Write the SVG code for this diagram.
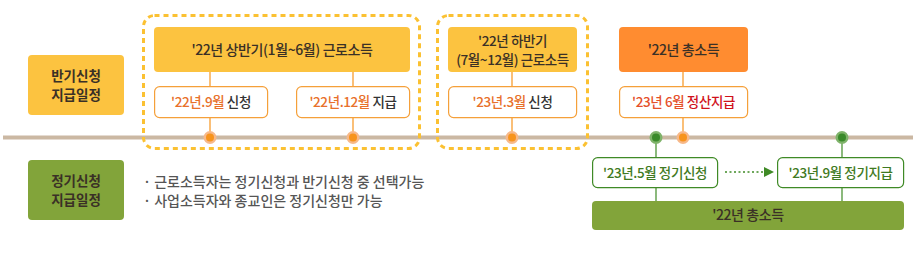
<svg xmlns="http://www.w3.org/2000/svg" width="915" height="259" viewBox="0 0 915 259">
<defs>
<style>
text{font-family:"Noto Sans CJK KR","Noto Sans",sans-serif;font-weight:500;text-anchor:middle;letter-spacing:-0.4px}
.lbl{font-size:14px;fill:#3a3026}
.side{font-size:13.5px;font-weight:700;fill:#3a3026;letter-spacing:0}
.sub{font-size:13.5px;fill:#333}
.or{fill:#e8702a}
.rd1{fill:#e5502a}
.rd2{fill:#d0121b}
.gt{fill:#3f7a22}
.yl{fill:#fcc340}
.og{fill:#ff8c30}
.gr{fill:#82a43a}
.wbo{fill:#fff;stroke:#f5a03a;stroke-width:1.2}
.wbg{fill:#fff;stroke:#3f8a26;stroke-width:1.2}
.dash{fill:none;stroke:#fbc132;stroke-width:3;stroke-dasharray:5 4}
.vo{stroke:#f7941d;stroke-width:1.2}
.vg{stroke:#3f8a26;stroke-width:1.2}
.note{font-size:14px;fill:#555;text-anchor:start;letter-spacing:0}
</style>
<marker id="ah" markerWidth="10" markerHeight="10" refX="9" refY="5" orient="auto" markerUnits="userSpaceOnUse">
<path d="M0,0 L10,5 L0,10 z" fill="#3f8a26"/>
</marker>
</defs>
<rect width="915" height="259" fill="#fff"/>

<g id="connectors">
<line x1="3" y1="137.5" x2="913" y2="137.5" stroke="#cbb8a3" stroke-width="4"/>
<line class="vo" x1="210" y1="72" x2="210" y2="86"/>
<line class="vo" x1="210" y1="118" x2="210" y2="137"/>
<line class="vo" x1="353" y1="72" x2="353" y2="86"/>
<line class="vo" x1="353" y1="118" x2="353" y2="137"/>
<line class="vo" x1="512" y1="72" x2="512" y2="86"/>
<line class="vo" x1="512" y1="118" x2="512" y2="137"/>
<line class="vo" x1="683" y1="72" x2="683" y2="86"/>
<line class="vo" x1="683" y1="118" x2="683" y2="137"/>
<line class="vg" x1="656" y1="137" x2="656" y2="157"/>
<line class="vg" x1="656" y1="188" x2="656" y2="201"/>
<line class="vg" x1="842" y1="137" x2="842" y2="157"/>
<line class="vg" x1="842" y1="188" x2="842" y2="201"/>
<line x1="725" y1="172" x2="773" y2="172" stroke="#3f8a26" stroke-width="1.5" stroke-dasharray="2 2.5" marker-end="url(#ah)"/>
<g id="dots">
<circle cx="210" cy="137.5" r="6.5" fill="#f7b98a"/><circle cx="210" cy="137.5" r="4" fill="#f7941d"/>
<circle cx="353" cy="137.5" r="6.5" fill="#f7b98a"/><circle cx="353" cy="137.5" r="4" fill="#f7941d"/>
<circle cx="512" cy="137.5" r="6.5" fill="#f7b98a"/><circle cx="512" cy="137.5" r="4" fill="#f7941d"/>
<circle cx="683" cy="137.5" r="6.5" fill="#f7b98a"/><circle cx="683" cy="137.5" r="4" fill="#f7941d"/>
<circle cx="656" cy="137.5" r="6.5" fill="#7fb36a"/><circle cx="656" cy="137.5" r="4" fill="#3a8a2a"/>
<circle cx="842" cy="137.5" r="6.5" fill="#7fb36a"/><circle cx="842" cy="137.5" r="4" fill="#3a8a2a"/>
</g>
</g>

<g id="group-h1"><rect class="dash" x="143.5" y="15.5" width="276" height="133" rx="11"/></g>
<g id="group-h2"><rect class="dash" x="437.5" y="15.5" width="150" height="133" rx="11"/></g>

<g id="label-half">
<rect class="yl" x="28" y="55" width="96" height="60" rx="4"/>
<text class="side" x="76" y="80.5">반기신청</text>
<text class="side" x="76" y="100">지급일정</text>
</g>
<g id="label-regular">
<rect class="gr" x="28" y="160" width="96" height="60" rx="4"/>
<text class="side" x="76" y="185.5">정기신청</text>
<text class="side" x="76" y="205">지급일정</text>
</g>

<g id="h1-header">
<rect class="yl" x="154" y="27" width="256" height="45" rx="4"/>
<text class="lbl" x="282" y="55">'22년 상반기(1월~6월) 근로소득</text>
</g>
<g id="h1-apply">
<rect class="wbo" x="154.6" y="86.6" width="113" height="31" rx="5"/>
<text class="sub" x="211" y="107"><tspan class="or">'22년.9월</tspan> 신청</text>
</g>
<g id="h1-pay">
<rect class="wbo" x="296.6" y="86.6" width="113" height="31" rx="5"/>
<text class="sub" x="353" y="107"><tspan class="or">'22년.12월</tspan> 지급</text>
</g>

<g id="h2-header">
<rect class="yl" x="448" y="27" width="129" height="45" rx="4"/>
<text class="lbl" x="512.5" y="45.5" style="font-size:13.5px">'22년 하반기</text>
<text class="lbl" x="512.5" y="65" style="font-size:13.5px">(7월~12월) 근로소득</text>
</g>
<g id="h2-apply">
<rect class="wbo" x="448.6" y="86.6" width="128" height="31" rx="5"/>
<text class="sub" x="512.5" y="107"><tspan class="or">'23년.3월</tspan> 신청</text>
</g>

<g id="total-header">
<rect class="og" x="619" y="27" width="129" height="45" rx="4"/>
<text class="lbl" x="683.5" y="55">'22년 총소득</text>
</g>
<g id="total-settle">
<rect class="wbo" x="619.6" y="86.6" width="128" height="31" rx="5"/>
<text class="sub" x="683.5" y="107"><tspan class="rd1">'23년 6월</tspan> <tspan class="rd2">정산지급</tspan></text>
</g>

<g id="reg-apply">
<rect class="wbg" x="592.6" y="157.6" width="125" height="30" rx="5"/>
<text class="sub gt" x="655" y="177.5">'23년.5월 정기신청</text>
</g>
<g id="reg-pay">
<rect class="wbg" x="777.6" y="157.6" width="126" height="30" rx="5"/>
<text class="sub gt" x="840.5" y="177.5">'23년.9월 정기지급</text>
</g>
<g id="reg-total">
<rect class="gr" x="592" y="201" width="312" height="29" rx="4"/>
<text class="lbl" x="748" y="220">'22년 총소득</text>
</g>

<g id="notes">
<text class="note" x="143" y="186.5">·  근로소득자는 정기신청과 반기신청 중 선택가능</text>
<text class="note" x="143" y="206">·  사업소득자와 종교인은 정기신청만 가능</text>
</g>
</svg>
